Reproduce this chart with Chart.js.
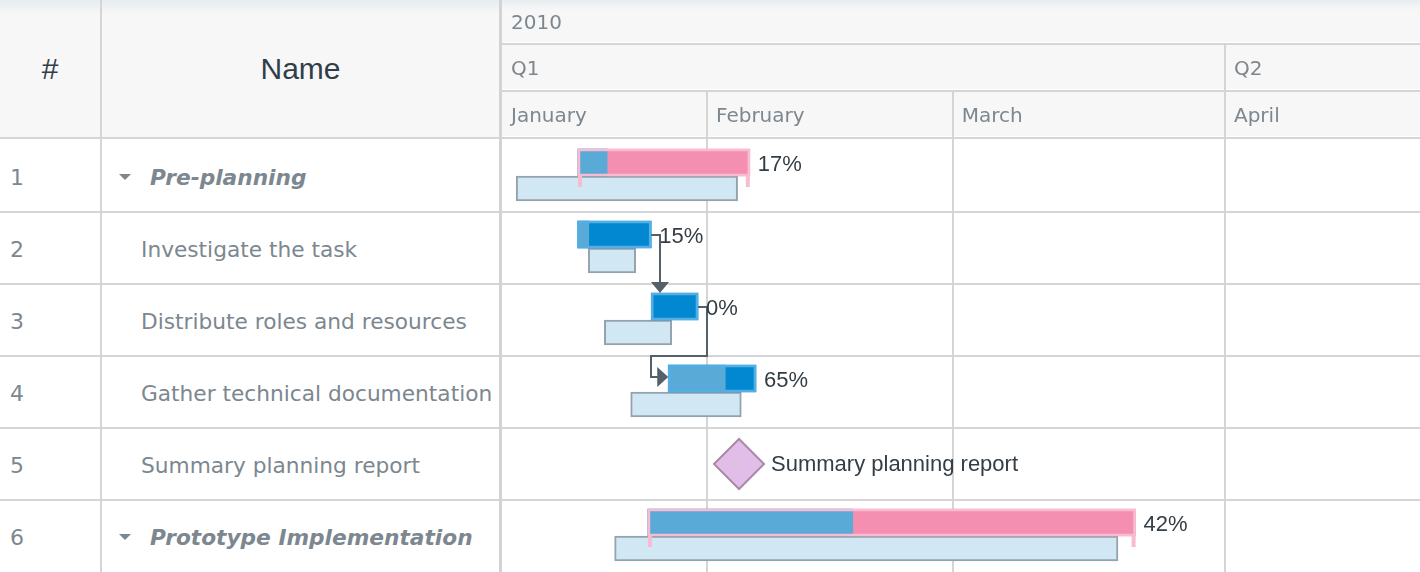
<!DOCTYPE html>
<html>
<head>
<meta charset="utf-8">
<title>Gantt chart</title>
<script src="https://cdn.jsdelivr.net/npm/chart.js@4.4.1/dist/chart.umd.min.js"></script>
<style>
  html, body { margin:0; padding:0; background:#ffffff; }
  body { width:1420px; height:572px; position:relative; overflow:hidden; }
  #grid { position:absolute; left:0; top:0; width:499px; height:572px; font-family:"DejaVu Sans", Verdana, sans-serif; }
  .head { position:absolute; top:0; height:137px; background:linear-gradient(#e6ecef 0px, #f7f7f7 14px, #f7f7f7 100%); }
  .headText { position:absolute; top:0; height:137px; line-height:137px; text-align:center; font-family:"Liberation Sans", Arial, sans-serif; font-size:30px; color:#2f3e49; }
  .hline { position:absolute; left:0; width:499px; height:2px; background:#d5d5d5; }
  .vline { position:absolute; top:0; width:2px; height:572px; background:#d5d5d5; }
  .num { position:absolute; left:10px; height:72px; line-height:72px; font-size:22px; color:#7c878f; }
  .name { position:absolute; height:72px; line-height:72px; font-size:21.7px; color:#7c878f; white-space:nowrap; }
  .group { font-weight:bold; font-style:italic; }
  .tri { position:absolute; width:0; height:0; border-left:6px solid transparent; border-right:6px solid transparent; border-top:6px solid #7c878f; }
  #divider { position:absolute; left:499px; top:0; width:3px; height:572px; background:#d3d3d3; }
  #wrap { position:absolute; left:502px; top:0; width:918px; height:572px; }
</style>
</head>
<body>
<div id="grid">
  <div class="head" style="left:0;width:100px"></div>
  <div class="head" style="left:102px;width:397px"></div>
  <div class="headText" style="left:0;width:100px">#</div>
  <div class="headText" style="left:102px;width:397px">Name</div>
  <div class="hline" style="top:137px"></div>
  <div class="vline" style="left:100px"></div>
</div>
<div id="divider"></div>
<div id="wrap"><canvas id="c" width="918" height="572"></canvas></div>
<script>
// ---- data (time values are days since 2010-01-01 00:00) ----
const taskIds = [1, 2, 3, 4, 5, 6];
const taskNames = ['Pre-planning', 'Investigate the task', 'Distribute roles and resources',
                   'Gather technical documentation', 'Summary planning report', 'Prototype Implementation'];
const isGroup = [true, false, false, false, false, true];
const isMilestone = [false, false, false, false, true, false];
const actualStart = [16.30, 16.28, 24.65, 26.59, 34.65, 24.27];
const actualEnd   = [35.88, 24.65, 29.98, 36.58, null, 79.82];
const baselineStart = [9.27, 17.48, 19.31, 22.31, null, 20.48];
const baselineEnd   = [34.49, 22.88, 26.98, 34.91, null, 77.81];
const progressPct = [17, 15, 0, 65, null, 42];
const depFrom = [1, 2];
const depTo   = [2, 3];

const viewStart = 7.654;
const viewEnd = 112.21;

const yearLabels = ['2010'];
const yearStarts = [0];
const quarterLabels = ['Q1', 'Q2'];
const quarterStarts = [0, 90];
const monthLabels = ['January', 'February', 'March', 'April'];
const monthStarts = [0, 31, 59, 90];

// ---- left data grid ----
const ROW_TOP = 140, ROW_H = 72;
const grid = document.getElementById('grid');
taskIds.forEach((id, i) => {
  const top = ROW_TOP + ROW_H * i;
  const n = document.createElement('div');
  n.className = 'num'; n.style.top = (top + 2) + 'px'; n.textContent = id;
  grid.appendChild(n);
  const nm = document.createElement('div');
  nm.className = 'name' + (isGroup[i] ? ' group' : '');
  nm.style.top = (top + 2) + 'px';
  nm.style.left = (isGroup[i] ? 150 : 141) + 'px';
  nm.textContent = taskNames[i];
  grid.appendChild(nm);
  if (isGroup[i]) {
    const t = document.createElement('div');
    t.className = 'tri'; t.style.left = '119px'; t.style.top = (top + 34) + 'px';
    grid.appendChild(t);
  }
  if (i < taskIds.length - 1) {
    const l = document.createElement('div');
    l.className = 'hline'; l.style.top = (top + ROW_H - 1) + 'px';
    grid.appendChild(l);
  }
});

// ---- colours ----
const C = {
  grid: '#d5d5d5', headBg: '#f7f7f7', headText: '#7c878f', label: '#333d45',
  progress: '#5aaad7', task: '#0288d1', taskBorder: '#52aee3',
  summary: '#f48fb1', summaryBorder: '#f8bbd0',
  baseFill: '#d1e7f3', baseBorder: '#94a3ad',
  msFill: '#e1bee7', msBorder: '#a98aaa', conn: '#545f69'
};

const actualData = taskIds.map((_, i) => actualEnd[i] == null ? null : [actualStart[i], actualEnd[i]]);
const progressData = taskIds.map((_, i) => (actualEnd[i] == null || !progressPct[i]) ? null :
  [actualStart[i], actualStart[i] + (actualEnd[i] - actualStart[i]) * progressPct[i] / 100]);
const baselineData = taskIds.map((_, i) => baselineEnd[i] == null ? null : [baselineStart[i], baselineEnd[i]]);
const milestoneData = taskIds.map((_, i) => isMilestone[i] ? {x: actualStart[i], y: taskNames[i]} : null).filter(Boolean);

function band(ctx, chart, starts, labels, top, bottom) {
  const x = chart.scales.x, a = chart.chartArea;
  ctx.fillStyle = C.grid;
  starts.forEach((s, k) => {
    const px = x.getPixelForValue(s);
    if (px > a.left + 1 && px < a.right) ctx.fillRect(Math.round(px) - 1, top, 2, bottom - top);
    const next = k + 1 < starts.length ? x.getPixelForValue(starts[k + 1]) : Infinity;
    if (next <= a.left) return;
    const lx = Math.max(px, a.left) + 9;
    if (lx < a.right) {
      ctx.fillStyle = C.headText;
      ctx.font = '20px "DejaVu Sans", Verdana, sans-serif';
      ctx.textBaseline = 'middle'; ctx.textAlign = 'left';
      ctx.fillText(labels[k], lx, (top + bottom) / 2 + 2.5);
      ctx.fillStyle = C.grid;
    }
  });
}

const ganttPlugin = {
  id: 'gantt',
  beforeDraw(chart) {
    const {ctx} = chart; const W = chart.width, H = chart.height;
    ctx.save();
    ctx.fillStyle = '#ffffff'; ctx.fillRect(0, 0, W, H);
    ctx.fillStyle = C.headBg; ctx.fillRect(0, 0, W, 137);
    const g = ctx.createLinearGradient(0, 0, 0, 14);
    g.addColorStop(0, '#e6ecef'); g.addColorStop(1, 'rgba(247,247,247,0)');
    ctx.fillStyle = g; ctx.fillRect(0, 0, W, 14);
    ctx.fillStyle = '#ffffff';
    ctx.fillRect(0, 42, W, 1); ctx.fillRect(0, 89, W, 1); ctx.fillRect(0, 136, W, 1);
    ctx.fillStyle = C.grid;
    ctx.fillRect(0, 43, W, 2); ctx.fillRect(0, 90, W, 2); ctx.fillRect(0, 137, W, 2);
    band(ctx, chart, yearStarts, yearLabels, 0, 43);
    band(ctx, chart, quarterStarts, quarterLabels, 45, 90);
    band(ctx, chart, monthStarts, monthLabels, 92, 137);
    ctx.restore();
  },
  beforeDatasetsDraw(chart) {
    const {ctx, chartArea: a, scales: {x, y}} = chart;
    ctx.save();
    ctx.fillStyle = C.grid;
    monthStarts.forEach(s => {
      const px = x.getPixelForValue(s);
      if (px > a.left + 1 && px < a.right) ctx.fillRect(Math.round(px) - 1, 139, 2, a.bottom - 139);
    });
    for (let i = 1; i < taskNames.length; i++) {
      const yb = (y.getPixelForValue(i - 1) + y.getPixelForValue(i)) / 2;
      ctx.fillRect(0, Math.round(yb) - 1, chart.width, 2);
    }
    ctx.restore();
  },
  afterDatasetsDraw(chart) {
    const {ctx, scales: {y}} = chart;
    const meta = chart.getDatasetMeta(0);
    const box = i => {
      const el = meta.data[i];
      const p = el.getProps(['x', 'y', 'base', 'height'], true);
      return {left: Math.min(p.x, p.base), right: Math.max(p.x, p.base), top: p.y - p.height / 2,
              bottom: p.y + p.height / 2, cy: p.y};
    };
    ctx.save();
    // connectors
    ctx.strokeStyle = C.conn; ctx.fillStyle = C.conn; ctx.lineWidth = 2;
    depFrom.forEach((p, k) => {
      const s = depTo[k];
      const P = box(p), S = box(s);
      const x1 = Math.round(P.right + 9);
      ctx.beginPath();
      ctx.moveTo(P.right, Math.round(P.cy)); ctx.lineTo(x1, Math.round(P.cy));
      if (actualStart[s] >= actualEnd[p]) {
        ctx.lineTo(x1, S.top - 10); ctx.stroke();
        ctx.beginPath(); ctx.moveTo(x1, S.top); ctx.lineTo(x1 - 9, S.top - 11); ctx.lineTo(x1 + 9, S.top - 11);
        ctx.closePath(); ctx.fill();
      } else {
        const rowTop = Math.round(y.getPixelForValue(s) - ROW_H / 2);
        const x2 = Math.round(S.left - 17);
        const cy = Math.round(S.cy) - 2;
        ctx.lineTo(x1, rowTop); ctx.lineTo(x2, rowTop); ctx.lineTo(x2, cy); ctx.lineTo(S.left - 10, cy);
        ctx.stroke();
        ctx.beginPath(); ctx.moveTo(S.left, cy); ctx.lineTo(S.left - 11, cy - 10); ctx.lineTo(S.left - 11, cy + 10);
        ctx.closePath(); ctx.fill();
      }
    });
    // summary end ticks + percent labels
    ctx.font = '22px "Liberation Sans", Arial, sans-serif';
    ctx.textBaseline = 'middle'; ctx.textAlign = 'left';
    taskIds.forEach((_, i) => {
      if (!meta.data[i] || actualData[i] == null) return;
      const b = box(i);
      if (isGroup[i]) {
        ctx.fillStyle = C.summaryBorder;
        ctx.fillRect(b.left, b.bottom, 4, 11);
        ctx.fillRect(b.right - 4, b.bottom, 4, 11);
      }
      ctx.fillStyle = C.label;
      ctx.fillText(progressPct[i] + '%', b.right + 8, b.cy + 2.5);
    });
    // milestone labels
    const mMeta = chart.getDatasetMeta(4);
    mMeta.data.forEach((pt, k) => {
      const p = pt.getProps(['x', 'y'], true);
      ctx.fillStyle = C.label;
      ctx.fillText(milestoneData[k].y, p.x + 25 + 7, p.y + 1);
    });
    ctx.restore();
  }
};

new Chart(document.getElementById('c'), {
  type: 'bar',
  data: {
    labels: taskNames,
    datasets: [
      { label: 'Actual outline', data: actualData, stack: 'act', order: 0, barThickness: 27,
        backgroundColor: 'rgba(0,0,0,0)', borderWidth: 2, borderSkipped: false,
        borderColor: taskIds.map((_, i) => isGroup[i] ? C.summaryBorder : C.taskBorder) },
      { label: 'Progress', data: progressData, stack: 'act', order: 1, barThickness: 27,
        backgroundColor: C.progress, borderWidth: 0 },
      { label: 'Actual', data: actualData, stack: 'act', order: 2, barThickness: 27, borderWidth: 0,
        backgroundColor: taskIds.map((_, i) => isGroup[i] ? C.summary : C.task) },
      { label: 'Baseline', data: baselineData, stack: 'base', order: 3, barThickness: 25,
        backgroundColor: C.baseFill, borderColor: C.baseBorder, borderWidth: 2, borderSkipped: false },
      { type: 'line', label: 'Milestone', data: milestoneData, order: -1, showLine: false,
        pointStyle: 'rectRot', pointRadius: 25, pointHoverRadius: 25, clip: false,
        pointBackgroundColor: C.msFill, pointBorderColor: C.msBorder, pointBorderWidth: 2 }
    ]
  },
  options: {
    indexAxis: 'y',
    responsive: false,
    animation: false,
    events: [],
    layout: { autoPadding: false, padding: { top: 140, left: 0, right: 0, bottom: 0 } },
    scales: {
      x: { type: 'linear', min: viewStart, max: viewEnd, display: false, stacked: false },
      y: { type: 'category', offset: true, display: false }
    },
    plugins: { legend: { display: false }, tooltip: { enabled: false } }
  },
  plugins: [ganttPlugin]
});
</script>
</body>
</html>
